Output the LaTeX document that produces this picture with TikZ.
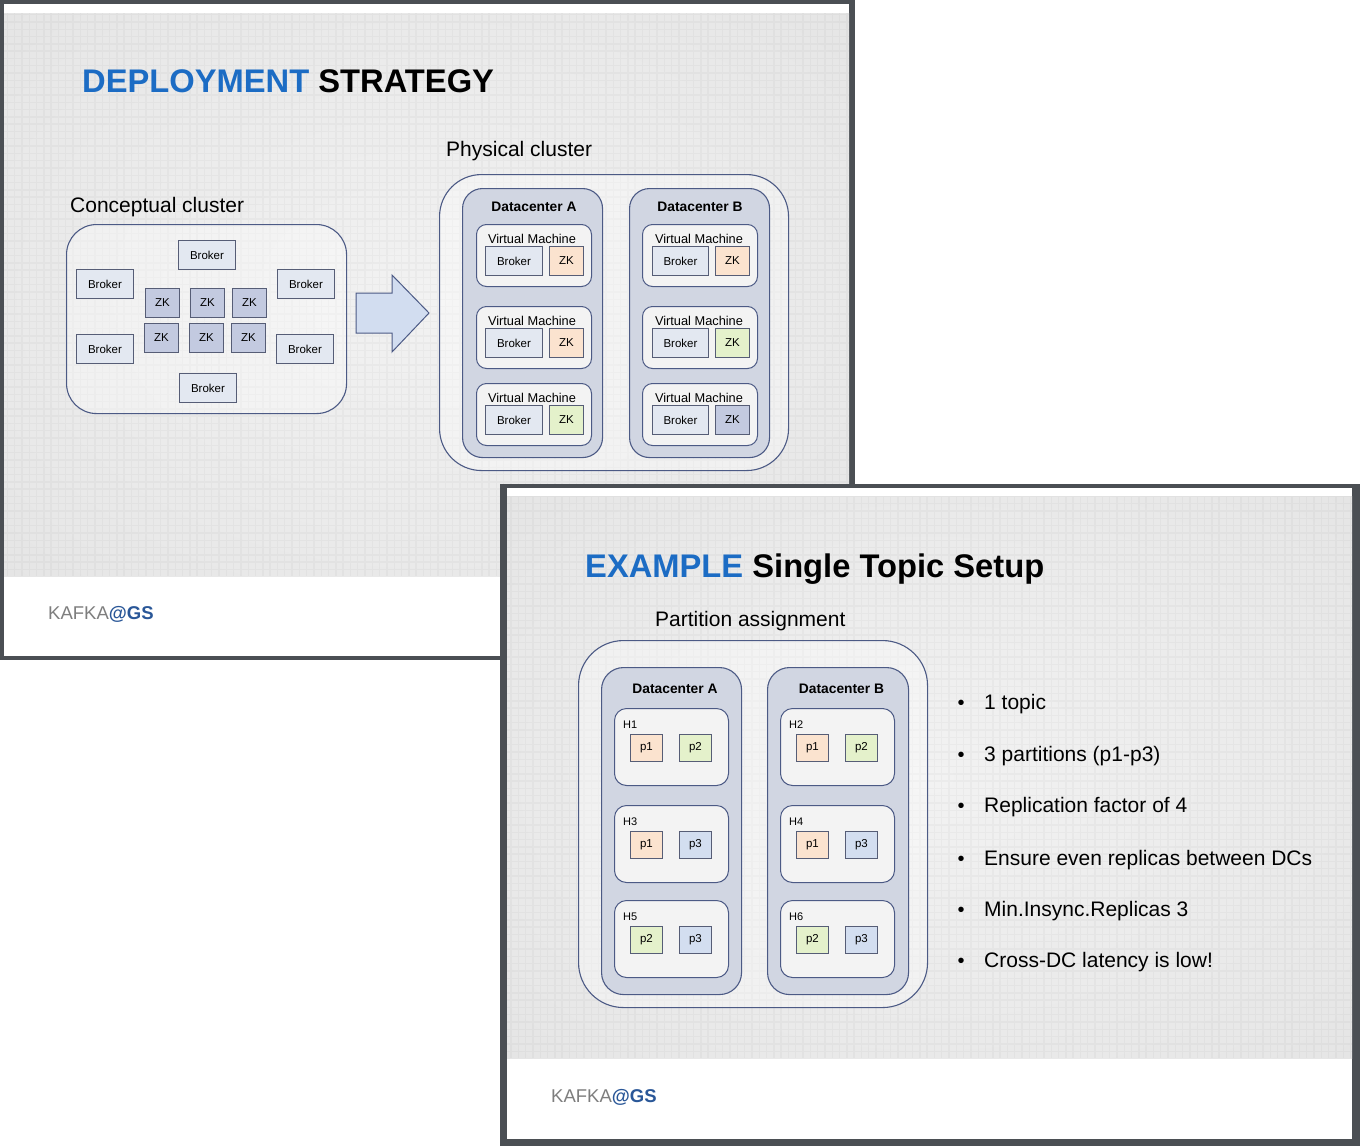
\documentclass[tikz,border=0pt]{standalone}
\usepackage{fontspec}
\setmainfont{Liberation Sans}
\definecolor{framec}{HTML}{4B4F54}
\definecolor{titleblue}{HTML}{1C6CC4}
\definecolor{footblue}{HTML}{2A5798}
\definecolor{footgray}{HTML}{7E7E7E}
\definecolor{cline}{HTML}{4C5A85}
\definecolor{dcfill}{HTML}{D1D6E2}
\definecolor{vmfill}{HTML}{F3F3F3}
\definecolor{brkfill}{HTML}{E3E8F1}
\definecolor{bline}{HTML}{565D76}
\definecolor{zkblue}{HTML}{C3CAE0}
\definecolor{zkor}{HTML}{FBE3CF}
\definecolor{zkgr}{HTML}{E4F1CB}
\definecolor{pblue}{HTML}{D3DEF0}
\definecolor{arrowfill}{HTML}{D2DDF0}
\definecolor{bgin}{HTML}{F2F2F2}
\definecolor{bgout}{HTML}{D4D4D4}
\pgfdeclareradialshading{slidebg}{\pgfpoint{0bp}{0bp}}{color(0bp)=(bgin); color(30bp)=(bgin!65!bgout); color(72bp)=(bgout)}
\begin{document}
\begin{tikzpicture}[x=1pt,y=-1pt,
  gridl/.style={draw=black, draw opacity=0.028, line width=1.4pt, step=7.3pt},
  cont/.style={draw=cline, line width=1.1pt, fill=white, fill opacity=0.35, text opacity=1, anchor=north west, inner sep=0pt},
  dc/.style={draw=cline, line width=1.1pt, fill=dcfill, rounded corners=20pt, anchor=north west, inner sep=0pt},
  vm/.style={draw=cline, line width=1pt, fill=vmfill, rounded corners=10pt, anchor=north west, inner sep=0pt},
  box/.style={draw=bline, line width=0.9pt, anchor=north west, inner sep=0pt, text=black, font=\fontsize{11.5}{12}\selectfont},
  brk/.style={box, fill=brkfill, minimum width=57pt, minimum height=29pt},
  zk/.style={box, minimum width=34pt, minimum height=29pt},
  pb/.style={box, minimum width=32pt, minimum height=26.5pt},
  small/.style={inner sep=0pt, anchor=base, font=\fontsize{12.8}{13}\selectfont},
  dct/.style={inner sep=0pt, anchor=base, font=\fontsize{13.8}{14}\selectfont\bfseries},
  lbl/.style={inner sep=0pt, anchor=base west, font=\fontsize{21}{22}\selectfont},
  ttl/.style={inner sep=0pt, anchor=base west, font=\fontsize{32.7}{34}\selectfont\bfseries},
  foot/.style={inner sep=0pt, anchor=base west, font=\fontsize{18.5}{19}\selectfont},
  bul/.style={inner sep=0pt, anchor=base, font=\fontsize{20}{21}\selectfont},
  hl/.style={inner sep=0pt, anchor=base west, font=\fontsize{11}{12}\selectfont}]
\useasboundingbox (0,0) rectangle (1360,1146);

% ================= slide 1 =================
\fill[framec] (0,0) rectangle (855,660);
\fill[white] (4,4) rectangle (849,656);
\shade[shading=slidebg] (4,13) rectangle (849,576);
\draw[gridl] (4,13) grid (849,576);

\node[ttl] (title1) at (82,92) {\textcolor{titleblue}{DEPLOYMENT} STRATEGY};
\node[foot] (foot1) at (48,619) {\textcolor{footgray}{KAFKA}\textcolor{footblue}{\bfseries @GS}};

% conceptual cluster
\node[lbl] (cclbl) at (70,212) {Conceptual cluster};
\node[cont, rounded corners=30pt, minimum width=280pt, minimum height=189pt] (concept) at (66,224) {};
\node[brk] (cb1) at (178,240) {Broker};
\node[brk] (cb2) at (76,269) {Broker};
\node[brk] (cb3) at (277,269) {Broker};
\node[brk] (cb4) at (76,334) {Broker};
\node[brk] (cb5) at (276,334) {Broker};
\node[brk] (cb6) at (179,373) {Broker};
\node[zk, fill=zkblue] (cz1) at (145,288) {ZK};
\node[zk, fill=zkblue] (cz2) at (190,288) {ZK};
\node[zk, fill=zkblue] (cz3) at (232,288) {ZK};
\node[zk, fill=zkblue] (cz4) at (144,323) {ZK};
\node[zk, fill=zkblue] (cz5) at (189,323) {ZK};
\node[zk, fill=zkblue] (cz6) at (231,323) {ZK};

% block arrow
\draw[draw=cline, line width=1pt, fill=arrowfill, line join=miter]
  (356,293) -- (392,293) -- (392,275) -- (429,313) -- (392,352) -- (392,333) -- (356,333) -- cycle;

% physical cluster
\node[lbl] (pclbl) at (446,156) {Physical cluster};
\node[cont, rounded corners=42pt, minimum width=349pt, minimum height=296pt] (phys) at (439,174) {};
\node[dc, minimum width=140pt, minimum height=269pt] (dcA) at (462,188) {};
\node[dc, minimum width=140pt, minimum height=269pt] (dcB) at (629,188) {};
\node[dct] (dcAt) at (534,211) {Datacenter A};
\node[dct] (dcBt) at (700,211) {Datacenter B};
\foreach \r/\vt/\bt/\ca/\cb in {1/224/246/zkor/zkor, 2/306/328/zkor/zkgr, 3/383/405/zkgr/zkblue} {
  \node[vm, minimum width=115pt, minimum height=62pt] (vmA\r) at (476,\vt) {};
  \node[vm, minimum width=115pt, minimum height=62pt] (vmB\r) at (642,\vt) {};
  \node[small] (vmAt\r) at (532,\vt+19) {Virtual Machine};
  \node[small] (vmBt\r) at (699,\vt+19) {Virtual Machine};
  \node[brk] (pbA\r) at (485,\bt) {Broker};
  \node[brk, minimum width=56pt] (pbB\r) at (652,\bt) {Broker};
  \node[zk, fill=\ca] (pzA\r) at (549,\bt) {ZK};
  \node[zk, fill=\cb] (pzB\r) at (715,\bt) {ZK};
}

% ================= slide 2 =================
\fill[framec] (500,484) rectangle (1360,1146);
\fill[white] (507,488) rectangle (1352,1139);
\shade[shading=slidebg] (507,496) rectangle (1352,1058);
\draw[gridl] (507,496) grid (1352,1058);

\node[ttl] (title2) at (585,577) {\textcolor{titleblue}{EXAMPLE} Single Topic Setup};
\node[foot] (foot2) at (551,1102) {\textcolor{footgray}{KAFKA}\textcolor{footblue}{\bfseries @GS}};

\node[lbl] (palbl) at (655,626) {Partition assignment};
\node[cont, rounded corners=45pt, minimum width=349pt, minimum height=367pt] (outer2) at (578,640) {};
\node[dc, rounded corners=22pt, minimum width=140pt, minimum height=327pt] (dc2A) at (601,667) {};
\node[dc, rounded corners=22pt, minimum width=141pt, minimum height=327pt] (dc2B) at (767,667) {};
\node[dct] (dc2At) at (675,693) {Datacenter A};
\node[dct] (dc2Bt) at (841.5,693) {Datacenter B};

\foreach \n/\hx/\hy/\lx/\rx/\pl/\cl/\pr/\cr in {
  1/614/708/630/679/p1/zkor/p2/zkgr,
  2/780/708/796/845/p1/zkor/p2/zkgr,
  3/614/805/630/679/p1/zkor/p3/pblue,
  4/780/805/796/845/p1/zkor/p3/pblue,
  5/614/900/630/679/p2/zkgr/p3/pblue,
  6/780/900/796/845/p2/zkgr/p3/pblue} {
  \node[vm, rounded corners=12pt, minimum width=114pt, minimum height=77pt] (h\n) at (\hx,\hy) {};
  \node[hl] (hl\n) at (\hx+9,\hy+20) {H\n};
  \node[pb, fill=\cl] (pl\n) at (\lx,\hy+26) {\pl};
  \node[pb, fill=\cr] (pr\n) at (\rx,\hy+26) {\pr};
}

% bullets
\foreach \i/\yy/\t in {1/709/1 topic, 2/761/3 partitions (p1-p3), 3/812/Replication factor of 4,
  4/865/Ensure even replicas between DCs, 5/916/Min.Insync.Replicas 3, 6/967/Cross-DC latency is low!} {
  \node[bul] (bd\i) at (961,\yy) {•};
  \node[lbl] (bt\i) at (984,\yy) {\t};
}
\end{tikzpicture}
\end{document}
